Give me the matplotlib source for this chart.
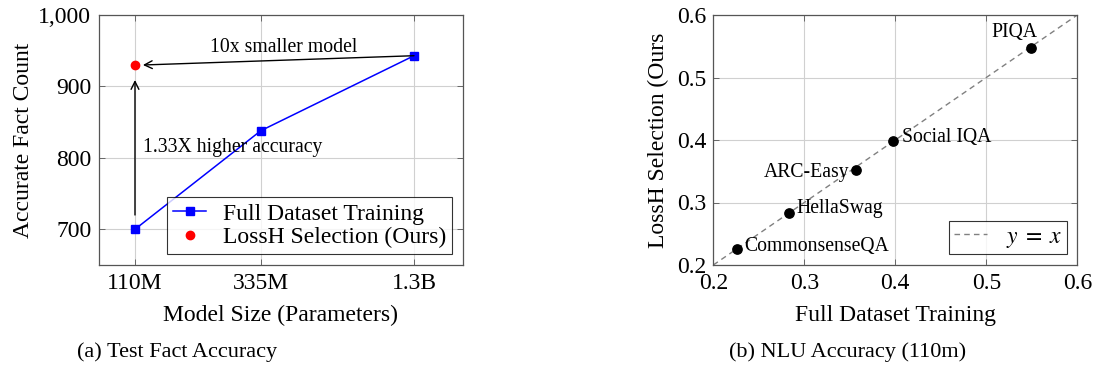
import matplotlib
matplotlib.use("Agg")
import matplotlib.pyplot as plt

plt.rcParams['font.family'] = ['Liberation Serif', 'DejaVu Serif']
plt.rcParams['mathtext.fontset'] = 'stix'

# ---- data: panel (a)
model_sizes_m = [110, 335, 1300]
model_labels = ['110M', '335M', '1.3B']
full_counts = [700, 838, 943]
lossh_size = [110]
lossh_count = [930]
y_ticks_a = [700, 800, 900, 1000]
y_ticklabels_a = ['700', '800', '900', '1,000']

# ---- data: panel (b)
tasks = ['PIQA', 'Social IQA', 'ARC-Easy', 'HellaSwag', 'CommonsenseQA']
full_acc = [0.549, 0.398, 0.357, 0.283, 0.226]
lossh_acc = [0.547, 0.398, 0.352, 0.283, 0.225]
ticks_b = [0.2, 0.3, 0.4, 0.5, 0.6]

W, H = 1097, 370
fig = plt.figure(figsize=(W / 100, H / 100), dpi=100)

FS = 17
AFS = 14.2
grid_kw = dict(color='#d0d0d0', linewidth=0.8)

def style(ax, ypad):
    ax.tick_params(direction='in', top=True, right=True, length=4, width=0.6,
                   color='#555555', labelsize=FS)
    ax.tick_params(axis='x', pad=5.5)
    ax.tick_params(axis='y', pad=ypad)
    ax.grid(True, **grid_kw)
    ax.set_axisbelow(True)
    for s in ax.spines.values():
        s.set_color('#555555')
        s.set_linewidth(0.9)

# ---- panel (a)
ax1 = fig.add_axes([99 / W, 1 - 265 / H, (462.7 - 99) / W, (265 - 15) / H])
style(ax1, 5.5)
ax1.set_xscale('log')
ax1.set_xlim(80, 2000)
ax1.set_ylim(650, 1000)
ax1.set_xticks(model_sizes_m)
ax1.set_xticklabels(model_labels)
ax1.xaxis.set_minor_locator(matplotlib.ticker.NullLocator())
ax1.set_yticks(y_ticks_a)
ax1.set_yticklabels(y_ticklabels_a)
ax1.plot(model_sizes_m, full_counts, color='blue', marker='s', markersize=6,
         linewidth=1.1, label='Full Dataset Training', zorder=3)
ax1.plot(lossh_size, lossh_count, color='red', marker='o', markersize=6,
         linestyle='none', label='LossH Selection (Ours)', zorder=3)
ax1.annotate('', xy=(118, lossh_count[0]), xytext=(model_sizes_m[2], full_counts[2]),
             arrowprops=dict(arrowstyle='->', color='black', lw=1.0,
                             shrinkA=0, shrinkB=0, mutation_scale=14))
ax1.annotate('', xy=(model_sizes_m[0], 909), xytext=(model_sizes_m[0], 720),
             arrowprops=dict(arrowstyle='->', color='black', lw=1.0,
                             shrinkA=0, shrinkB=0, mutation_scale=14))
ax1.text(410, 955, '10x smaller model', fontsize=AFS, ha='center', va='center')
ax1.text(118, 815, '1.33X higher accuracy', fontsize=AFS, ha='left', va='center')
ax1.set_xlabel('Model Size (Parameters)', fontsize=FS, labelpad=8)
ax1.set_ylabel('Accurate Fact Count', fontsize=FS, labelpad=3)
leg = ax1.legend(loc='lower right', fontsize=FS, frameon=True, fancybox=False,
                 edgecolor='black', handlelength=1.4, borderpad=0.25,
                 labelspacing=0.1, handletextpad=0.7, borderaxespad=0.45)
leg.get_frame().set_linewidth(0.8)
fig.text(177 / W, 1 - 352 / H, '(a) Test Fact Accuracy', fontsize=16,
         ha='center', va='center')

# ---- panel (b)
ax2 = fig.add_axes([713.3 / W, 1 - 265 / H, (1077.3 - 713.3) / W, (265 - 15) / H])
style(ax2, 5.0)
ax2.set_xlim(0.2, 0.6)
ax2.set_ylim(0.2, 0.6)
ax2.set_xticks(ticks_b)
ax2.set_yticks(ticks_b)
ax2.set_xticklabels([f'{t:g}' for t in ticks_b])
ax2.set_yticklabels([f'{t:g}' for t in ticks_b])
ax2.plot([0.2, 0.6], [0.2, 0.6], linestyle='--', color='gray', linewidth=1.0,
         dashes=(4, 3), label='$y\\;=\\;x$', zorder=2)
ax2.scatter(full_acc, lossh_acc, s=45, color='black', zorder=3)
offsets = {
    'PIQA': (5, 11.5, 'right', 'center'),
    'Social IQA': (6, 3, 'left', 'center'),
    'ARC-Easy': (-5, -2, 'right', 'center'),
    'HellaSwag': (5.5, 3, 'left', 'center'),
    'CommonsenseQA': (5, 2, 'left', 'center'),
}
for name, x, y in zip(tasks, full_acc, lossh_acc):
    dx, dy, ha, va = offsets[name]
    ax2.annotate(name, (x, y), xytext=(dx, dy), textcoords='offset points',
                 fontsize=AFS, ha=ha, va=va)
ax2.set_xlabel('Full Dataset Training', fontsize=FS, labelpad=8)
ax2.set_ylabel('LossH Selection (Ours', fontsize=FS, labelpad=6)
leg2 = ax2.legend(loc='lower right', fontsize=FS, frameon=True, fancybox=False,
                  edgecolor='black', handlelength=1.4, borderpad=0.2,
                  handletextpad=0.8, borderaxespad=0.45)
leg2.get_frame().set_linewidth(0.8)
fig.text(848 / W, 1 - 352 / H, '(b) NLU Accuracy (110m)', fontsize=16,
         ha='center', va='center')

fig.savefig('out.png', dpi=100)
